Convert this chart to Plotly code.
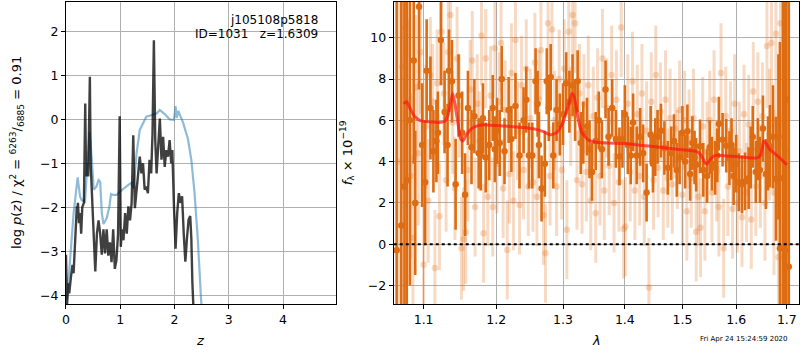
import math
import plotly.graph_objects as go

# ---------------- left panel: p(z) ----------------
pz_z = [0.0, 0.02, 0.04, 0.06, 0.09, 0.12, 0.14, 0.17, 0.20, 0.205, 0.22, 0.24, 0.26, 0.28, 0.30, 0.33, 0.355, 0.37,
        0.39, 0.41, 0.44, 0.455, 0.47, 0.49, 0.51, 0.54, 0.57, 0.60, 0.63, 0.66, 0.69, 0.72, 0.75, 0.78, 0.81, 0.84,
        0.87, 0.90, 0.93, 0.96, 0.99, 1.01, 1.03, 1.06, 1.09, 1.12, 1.15, 1.18, 1.21, 1.24, 1.27, 1.30, 1.33, 1.36,
        1.39, 1.42, 1.45, 1.48, 1.51, 1.54, 1.57, 1.595, 1.62, 1.645, 1.67, 1.70, 1.73, 1.76, 1.79, 1.82, 1.85, 1.88,
        1.91, 1.94, 1.96, 1.99, 2.02, 2.05, 2.08, 2.11, 2.14, 2.17, 2.20, 2.23, 2.26, 2.29, 2.31, 2.33, 2.36]
pz_val = [-3.08, -4.2, -3.73, -3.96, -3.6, -3.31, -3.5, -2.59, -1.98, -2.13, -1.9, -2.36, -2.13, -2.6, -2.0, -1.9,
          0.36, -1.3, -1.0, -1.3, 0.97, -1.03, -1.45, -2.2, -2.9, -3.46, -2.6, -2.3, -2.6, -3.08, -2.5, -3.05, -2.5,
          -3.1, -2.8, -3.25, -2.5, -3.4, -3.2, -2.6, 0.07, -2.9, -2.5, -2.75, -2.13, -2.6, -1.98, -2.3, -1.9, -0.36,
          -2.02, -1.6, -1.15, -0.85, -1.23, -1.0, -1.6, -1.53, -1.68, -0.92, -1.23, -0.32, 1.8, -0.47, -1.23, -0.62,
          0.02, -0.92, -0.4, -1.08, -0.7, -0.85, -0.47, -1.0, -0.7, -1.98, -2.94, -2.13, -1.68, -1.9, -1.75, -2.59,
          -3.24, -2.7, -2.28, -2.2, -2.7, -3.73, -4.6]

chi_z = [0.02, 0.08, 0.14, 0.215, 0.26, 0.29, 0.35, 0.40, 0.435, 0.477, 0.51, 0.56, 0.60, 0.63, 0.66, 0.69, 0.75,
         0.80, 0.83, 0.87, 0.935, 0.99, 1.06, 1.15, 1.21, 1.24, 1.27, 1.30, 1.36, 1.42, 1.48, 1.58, 1.67, 1.73, 1.82,
         1.91, 1.99, 2.02, 2.04, 2.07, 2.10, 2.16, 2.25, 2.31, 2.37, 2.43, 2.49, 2.52]
chi_val = [-4.1, -3.05, -2.14, -1.32, -1.76, -1.84, -1.87, -0.92, -0.28, -0.92, -1.6, -1.53, -1.38, -1.42, -2.13,
           -2.38, -2.25, -1.99, -1.70, -1.72, -1.72, -1.65, -1.57, -1.49, -1.44, -1.57, -1.23, -0.78, -0.24, -0.09,
           0.06, 0.10, 0.13, 0.21, 0.12, 0.0, -0.01, 0.30, 0.03, 0.19, 0.11, -0.08, -0.46, -0.92, -1.68, -2.74,
           -4.1, -4.6]

z_ticks = [0, 1, 2, 3, 4]
logp_ticks = [-4, -3, -2, -1, 0, 1, 2]

# ---------------- right panel: spectrum ----------------
dark_wave = [1.065, 1.071, 1.075, 1.078, 1.082, 1.087, 1.089, 1.094, 1.098, 1.102, 1.104, 1.109, 1.113, 1.117, 1.119,
             1.123, 1.128, 1.132, 1.134, 1.138, 1.143, 1.147, 1.152, 1.156, 1.160, 1.165, 1.169, 1.175, 1.178, 1.181,
             1.185, 1.190, 1.195, 1.198, 1.201, 1.205, 1.208, 1.212, 1.218, 1.222, 1.228, 1.234, 1.240, 1.244, 1.248,
             1.253, 1.258, 1.261, 1.263, 1.267, 1.272, 1.275, 1.278, 1.281, 1.285, 1.290, 1.295, 1.300, 1.305, 1.310,
             1.315, 1.319, 1.323, 1.328, 1.332, 1.338, 1.342, 1.346, 1.352, 1.357, 1.362, 1.368, 1.373, 1.379, 1.385,
             1.391, 1.396, 1.400, 1.405, 1.410, 1.414, 1.420, 1.426, 1.431, 1.437, 1.444, 1.448, 1.452, 1.456, 1.462,
             1.468, 1.474, 1.480, 1.485, 1.490, 1.495, 1.500, 1.505, 1.509, 1.514, 1.518, 1.522, 1.525, 1.532, 1.538,
             1.545, 1.550, 1.554, 1.560, 1.564, 1.567, 1.574, 1.581, 1.587, 1.591, 1.595, 1.600, 1.605, 1.611, 1.617,
             1.624, 1.628, 1.632, 1.638, 1.642, 1.646, 1.652, 1.658, 1.662, 1.666, 1.672, 1.678, 1.683, 1.686, 1.692,
             1.696, 1.699, 1.704]
dark_flux = [-0.3, 0.9, 2.8, 3.1, 6.0, 8.9, 2.0, 11.5, 4.8, 3.0, 8.4, 6.6, 4.5, 5.0, 5.4,
             9.9, 6.4, 4.8, 8.4, 7.9, 2.9, 7.2, 5.4, 2.4, 6.6, 4.7, 6.2, 4.4, 4.3, 6.1,
             4.2, 4.8, 6.6, 4.6, 5.5, 4.9, 8.0, 4.5, 6.5, 5.1, 6.7, 4.3, 6.0, 7.0, 4.3,
             4.3, 7.9, 6.8, 4.8, 2.7, 3.9, 7.9, 6.6, 8.1, 4.3, 6.5, 5.8, 6.3, 7.8, 6.9,
             7.7, 6.5, 7.9, 4.9, 5.4, 5.7, 4.6, 3.5, 5.0, 6.0, 4.6, 7.5, 5.2, 6.6, 5.1,
             4.25, 5.1, 6.3, 4.8, 4.3, 5.9, 4.3, 5.2, 4.4, 2.5, 5.3, 3.9, 4.7, 5.2, 5.5,
             4.66, 3.7, 4.4, 5.0, 3.6, 4.2, 5.4, 4.0, 5.47, 3.4, 4.9, 4.2, 3.85, 4.74, 3.6,
             3.3, 4.7, 3.9, 3.7, 4.3, 5.84, 5.06, 4.77, 4.17, 4.8, 3.3, 3.9, 3.0, 2.9, 3.04,
             3.2, 4.2, 5.2, 3.5, 4.6, 3.6, 5.6, 3.4, 4.4, 4.74, 5.2, 3.17, 5.2, -0.2, 3.2,
             -0.3, 7.0, -1.1]
dark_err = [14, 12, 10, 9, 8, 5, 3.5, 4, 3, 3, 2.5, 2.5, 2, 2, 2,
            2.2, 2, 2, 2, 2, 2.2, 2, 2, 2, 1.8, 1.8, 1.8, 1.7, 1.7, 1.7,
            1.7, 1.7, 1.6, 1.6, 1.6, 1.6, 1.6, 1.6, 1.6, 1.6, 1.6, 1.6, 1.6, 1.6, 1.6,
            1.6, 1.6, 1.6, 1.6, 1.6, 1.6, 1.6, 1.6, 1.6, 1.6, 1.5, 1.5, 1.5, 1.5, 1.5,
            1.5, 1.5, 1.5, 1.5, 1.5, 1.4, 1.4, 1.4, 1.4, 1.4, 1.4, 1.4, 1.4, 1.4, 1.4,
            1.4, 1.4, 1.4, 1.4, 1.4, 1.4, 1.4, 1.4, 1.4, 1.4, 1.4, 1.4, 1.4, 1.3, 1.3,
            1.3, 1.3, 1.3, 1.3, 1.3, 1.3, 1.3, 1.3, 1.3, 1.3, 1.3, 1.3, 1.3, 1.3, 1.3,
            1.3, 1.3, 1.3, 1.3, 1.3, 1.3, 1.3, 1.3, 1.3, 1.3, 1.4, 1.4, 1.4, 1.4, 1.4,
            1.5, 1.5, 1.5, 1.5, 1.5, 1.6, 1.6, 1.7, 1.8, 2, 2.5, 3, 4, 10, 12,
            14, 14, 16]

light_wave = [1.068, 1.072, 1.076, 1.080, 1.083, 1.086, 1.090, 1.093, 1.096, 1.100, 1.103, 1.106, 1.109, 1.112,
              1.115, 1.118, 1.121, 1.124, 1.127, 1.130, 1.133, 1.136, 1.139, 1.142, 1.145, 1.148, 1.151, 1.154,
              1.157, 1.160, 1.163, 1.166, 1.170, 1.173, 1.176, 1.179, 1.182, 1.185, 1.188, 1.192, 1.195, 1.198,
              1.201, 1.204, 1.207, 1.210, 1.213, 1.216, 1.219, 1.222, 1.225, 1.228, 1.231, 1.234, 1.237, 1.240,
              1.244, 1.247, 1.250, 1.254, 1.257, 1.260, 1.263, 1.266, 1.270, 1.273, 1.277, 1.280, 1.283, 1.287,
              1.290, 1.294, 1.298, 1.302, 1.306, 1.309, 1.312, 1.315, 1.319, 1.322, 1.326, 1.330, 1.333, 1.337,
              1.340, 1.344, 1.348, 1.352, 1.355, 1.359, 1.363, 1.366, 1.370, 1.374, 1.378, 1.382, 1.386, 1.390,
              1.394, 1.398, 1.401, 1.405, 1.409, 1.413, 1.417, 1.421, 1.425, 1.429, 1.433, 1.437, 1.441, 1.445,
              1.449, 1.453, 1.457, 1.461, 1.466, 1.470, 1.474, 1.478, 1.482, 1.487, 1.491, 1.495, 1.500, 1.504,
              1.508, 1.512, 1.516, 1.520, 1.525, 1.529, 1.533, 1.537, 1.541, 1.545, 1.550, 1.554, 1.558, 1.563,
              1.567, 1.571, 1.576, 1.580, 1.584, 1.589, 1.593, 1.597, 1.602, 1.606, 1.611, 1.615, 1.620, 1.624,
              1.629, 1.633, 1.638, 1.642, 1.647, 1.651, 1.656, 1.660, 1.665, 1.669, 1.674, 1.678, 1.683, 1.687,
              1.692, 1.697]
light_flux = [4.0, 8.6, 10.5, 6.9, 3.3, 0.3, 7.6, 4.4, 9.3, -1.0, 5.7, 2.1, 8.2, 6.9,
              -1.15, 7.8, 1.35, 10.3, 7.3, 3.1, 9.3, 11.1, 5.9, 2.7, 9.0, 6.7, -0.2, 0.24,
              0.58, 3.6, 7.5, 8.9, 1.8, 6.8, 5.0, 10.1, 0.53, 9.0, 2.3, 7.2, 1.8, 9.5,
              3.9, 6.9, 9.75, 2.7, 6.5, -0.28, 3.4, 8.3, 2.1, 9.9, 5.5, 1.9, 7.7, 3.6,
              8.5, 2.8, 6.1, 3.0, 8.8, 2.3, 7.0, 9.4, 1.4, -0.44, 10.7, 3.3, 10.4, 6.0,
              2.8, 8.0, 3.6, 8.5, 0.7, 10.3, 6.2, 11.1, 10.7, 3.1, 7.3, 2.9, 6.8, 3.5,
              7.7, 2.1, 6.2, 1.5, 7.1, 3.3, 9.0, 2.6, 6.6, 3.8, 8.2, 2.0, 7.0, 3.0,
              10.5, 0.73, 0.85, 6.8, 3.5, 7.9, 2.6, 6.3, 3.3, 7.3, 2.3, 5.5, -2.1, 6.9,
              3.1, 8.2, 3.7, 6.4, 2.6, 7.0, 3.2, 6.1, 2.9, 5.6, 4.1, 6.5, 2.4, 6.0,
              1.6, 5.1, 3.2, 6.1, 0.6, 2.3, 0.8, 5.7, 1.6, 4.5, 6.0, 2.5, 7.0, 3.5,
              1.8, 8.3, -0.2, 6.2, 2.8, 5.5, 1.7, 6.8, 2.0, 4.5, 1.3, 6.3, 2.5, 5.8,
              1.2, 7.4, 2.8, 6.9, 3.3, 6.2, 2.0, 9.6, 5.3, 9.75, 2.5, 10.2, -0.63, 10.7,
              -0.6, 4.5]
light_err = [8, 6, 5, 4, 4, 4, 3.5, 3.5, 3, 3, 3, 3, 2.8, 2.8,
             2.8, 2.6, 2.6, 2.6, 2.5, 2.5, 2.5, 2.5, 2.5, 2.5, 2.5, 2.5, 2.5, 2.5,
             2.5, 2.5, 2.4, 2.4, 2.4, 2.4, 2.4, 2.4, 2.4, 2.4, 2.4, 2.4, 2.4, 2.4,
             2.4, 2.4, 2.4, 2.4, 2.4, 2.4, 2.4, 2.4, 2.4, 2.4, 2.4, 2.4, 2.4, 2.4,
             2.4, 2.4, 2.4, 2.4, 2.4, 2.4, 2.4, 2.4, 2.4, 2.4, 2.4, 2.4, 2.4, 2.4,
             2.4, 2.4, 2.4, 2.4, 2.4, 2.4, 2.4, 2.4, 2.4, 2.4, 2.4, 2.4, 2.4, 2.4,
             2.4, 2.4, 2.4, 2.4, 2.4, 2.4, 2.4, 2.4, 2.4, 2.4, 2.4, 2.4, 2.4, 2.4,
             2.4, 2.4, 2.4, 2.4, 2.4, 2.4, 2.4, 2.4, 2.4, 2.4, 2.4, 2.4, 2.4, 2.4,
             2.4, 2.4, 2.4, 2.4, 2.4, 2.4, 2.4, 2.4, 2.4, 2.4, 2.4, 2.4, 2.4, 2.4,
             2.4, 2.4, 2.4, 2.4, 2.4, 2.4, 2.4, 2.4, 2.4, 2.4, 2.4, 2.4, 2.4, 2.4,
             2.4, 2.4, 2.4, 2.4, 2.4, 2.4, 2.4, 2.4, 2.4, 2.4, 2.4, 2.4, 2.4, 2.4,
             2.4, 2.4, 2.4, 2.4, 2.5, 2.6, 2.8, 3, 3.2, 3.5, 4, 4.5, 5, 6,
             7, 8]

model_wave = [1.074, 1.078, 1.082, 1.088, 1.095, 1.10, 1.11, 1.12, 1.128, 1.133, 1.137, 1.139, 1.142, 1.146, 1.150,
              1.153, 1.157, 1.162, 1.17, 1.18, 1.20, 1.22, 1.24, 1.26, 1.27, 1.28, 1.29, 1.30, 1.306, 1.311, 1.314,
              1.317, 1.321, 1.325, 1.33, 1.34, 1.35, 1.37, 1.40, 1.43, 1.46, 1.49, 1.51, 1.525, 1.533, 1.538, 1.541,
              1.545, 1.552, 1.56, 1.57, 1.60, 1.62, 1.64, 1.647, 1.651, 1.654, 1.658, 1.665, 1.68, 1.70]
model_flux = [6.8, 6.9, 6.6, 6.2, 6.0, 5.95, 5.92, 5.9, 5.95, 6.3, 7.0, 7.3, 6.8, 5.9, 5.1,
              5.0, 5.25, 5.5, 5.7, 5.78, 5.75, 5.7, 5.65, 5.55, 5.45, 5.3, 5.4, 5.9, 6.5, 7.0, 7.3,
              7.2, 6.6, 5.9, 5.4, 5.05, 4.95, 4.9, 4.88, 4.78, 4.7, 4.6, 4.55, 4.5, 4.35, 4.1, 3.95,
              3.9, 4.15, 4.3, 4.3, 4.25, 4.2, 4.18, 4.3, 4.7, 5.0, 4.9, 4.6, 4.3, 3.85]

lam_ticks = [1.1, 1.2, 1.3, 1.4, 1.5, 1.6, 1.7]
flux_ticks = [-2, 0, 2, 4, 6, 8, 10]

W, H = 800, 350
FONT = "DejaVu Sans"
ORANGE = "rgb(222,108,18)"
ORANGE_L = "rgba(222,108,18,0.25)"


def px(x0, x1):
    return [x0 / W, x1 / W]


def py(top, bottom):
    return [(H - bottom) / H, (H - top) / H]


def pxx(x):
    return x / W


def pyy(y):
    return (H - y) / H


fig = go.Figure()

# left panel traces
fig.add_trace(go.Scatter(x=chi_z, y=chi_val, mode="lines", xaxis="x", yaxis="y",
                         line=dict(color="rgba(31,119,180,0.5)", width=2.2), hoverinfo="skip"))
fig.add_trace(go.Scatter(x=pz_z, y=pz_val, mode="lines", xaxis="x", yaxis="y",
                         line=dict(color="rgba(0,0,0,0.75)", width=2.4), hoverinfo="skip"))

# right panel traces
fig.add_trace(go.Scatter(x=light_wave, y=light_flux, mode="markers", xaxis="x2", yaxis="y2",
                         marker=dict(color=ORANGE_L, size=6.5),
                         error_y=dict(type="data", array=light_err, color=ORANGE_L, thickness=3, width=0),
                         hoverinfo="skip"))
fig.add_trace(go.Scatter(x=dark_wave, y=dark_flux, mode="markers", xaxis="x2", yaxis="y2",
                         marker=dict(color=ORANGE, size=6.5),
                         error_y=dict(type="data", array=dark_err, color=ORANGE, thickness=2.6, width=0),
                         hoverinfo="skip"))
fig.add_trace(go.Scatter(x=model_wave, y=model_flux, mode="lines", xaxis="x2", yaxis="y2",
                         line=dict(color="rgba(255,20,20,0.7)", width=3, shape="spline", smoothing=0.6),
                         hoverinfo="skip"))

axis_common = dict(showline=True, linecolor="black", linewidth=1, mirror=True,
                   showgrid=True, gridcolor="#b0b0b0", gridwidth=1, zeroline=False,
                   ticks="outside", ticklen=4, tickcolor="black",
                   tickfont=dict(family=FONT, size=12.5, color="black"))

fig.update_layout(
    width=W, height=H, margin=dict(l=0, r=0, t=0, b=0),
    paper_bgcolor="white", plot_bgcolor="white", showlegend=False,
    font=dict(family=FONT, color="black"),
    xaxis=dict(domain=px(62.3, 333.3), range=[0, 4.97], tickvals=z_ticks, anchor="y", **axis_common),
    yaxis=dict(domain=py(1.5, 304), range=[-4.2, 2.68], tickvals=logp_ticks, anchor="x",
               tickformat="d", **axis_common),
    xaxis2=dict(domain=px(391.7, 799), type="log",
                range=[math.log10(1.0613), math.log10(1.725)],
                tickvals=lam_ticks, ticktext=[f"{v:.1f}" for v in lam_ticks], anchor="y2", **axis_common),
    yaxis2=dict(domain=py(1.5, 304), range=[-2.9, 11.76], tickvals=flux_ticks, anchor="x2", **axis_common),
)

# dotted zero line
fig.add_shape(type="line", xref="x2 domain", yref="y2", x0=0, x1=1, y0=0, y1=0,
              line=dict(color="black", width=2, dash="dot"), layer="above")

ann = []
ann.append(dict(xref="paper", yref="paper", x=pxx(318), y=pyy(20), xanchor="right", yanchor="middle",
                text="j105108p5818", showarrow=False, font=dict(family=FONT, size=12, color="black")))
ann.append(dict(xref="paper", yref="paper", x=pxx(318), y=pyy(34), xanchor="right", yanchor="middle",
                text="ID=1031   z=1.6309", showarrow=False, font=dict(family=FONT, size=12, color="black")))
ann.append(dict(xref="paper", yref="paper", x=pxx(197), y=pyy(340), xanchor="center", yanchor="middle",
                text="<i>z</i>", showarrow=False, font=dict(family=FONT, size=13, color="black")))
ann.append(dict(xref="paper", yref="paper", x=pxx(595), y=pyy(340), xanchor="center", yanchor="middle",
                text="<i>λ</i>", showarrow=False, font=dict(family=FONT, size=13, color="black")))
ann.append(dict(xref="paper", yref="paper", x=pxx(13), y=pyy(152), xanchor="center", yanchor="middle",
                textangle=-90,
                text="log <i>p</i>(<i>z</i>) / χ<sup>2</sup> = <sup>6263</sup>/<sub>6885</sub> = 0.91",
                showarrow=False, font=dict(family=FONT, size=13, color="black")))
ann.append(dict(xref="paper", yref="paper", x=pxx(345), y=pyy(153), xanchor="center", yanchor="middle",
                textangle=-90, text="<i>f</i><sub>λ</sub> × 10<sup>−19</sup>",
                showarrow=False, font=dict(family=FONT, size=13, color="black")))
ann.append(dict(xref="paper", yref="paper", x=pxx(744), y=pyy(339), xanchor="center", yanchor="middle",
                text="Fri Apr 24 15:24:59 2020", showarrow=False, font=dict(family=FONT, size=7, color="black")))
fig.update_layout(annotations=ann)

# remove the default page margin so the 800x350 figure fills the window exactly
fig.write_html("out.html", config={"displayModeBar": False},
               post_script="document.body.style.margin='0';document.body.style.overflow='hidden';")
